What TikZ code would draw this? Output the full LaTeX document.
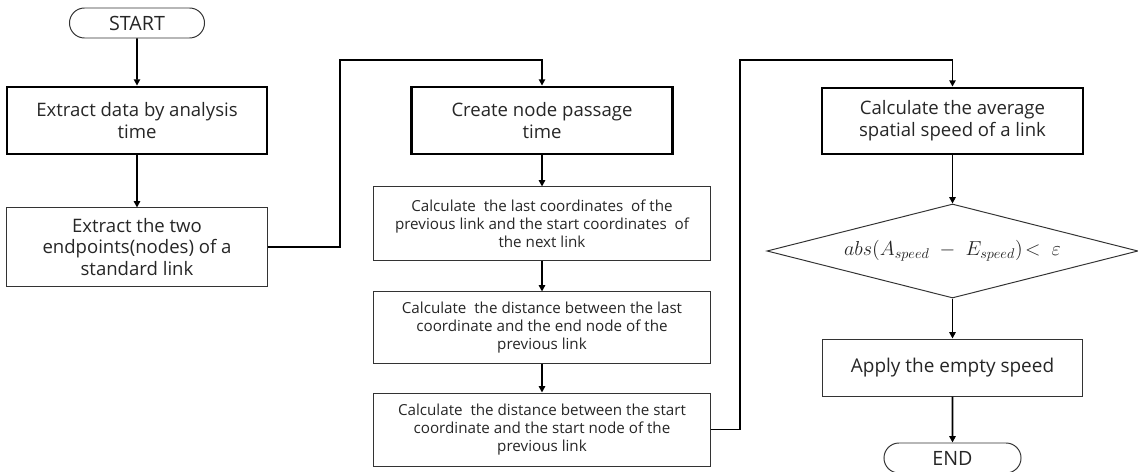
\documentclass[tikz,border=0pt]{standalone}
\usepackage{amsmath,amssymb}
\usepackage{fontspec}
\setmainfont{Open Sans}
\usepackage{tikz}
\usetikzlibrary{positioning,arrows.meta,calc,shapes.geometric,shapes.misc}

\begin{document}
\begin{tikzpicture}[x=0.025cm,y=-0.025cm,
  box/.style={draw=black!80,line width=0.7pt,align=center,inner sep=0pt,text=black!85},
  mainbox/.style={box,draw=black,line width=2pt,minimum width=6.5cm,minimum height=1.675cm,font=\fontsize{13.2}{15.5}\selectfont},
  subbox/.style={box,minimum width=8.4cm,font=\fontsize{10.8}{12.9}\selectfont},
  pill/.style={box,rounded rectangle,minimum height=0.75cm,font=\fontsize{14}{14}\selectfont},
  flow/.style={-{Triangle[length=4.5pt,width=4.5pt]},line width=1.1pt}]
\useasboundingbox (0,0) rectangle (1138,472);
\begin{scope}
% first column
\node[pill,minimum width=3.375cm] (start) at (137,23) {START};
\node[mainbox] (extract) at (137,120.5) {Extract data by analysis\\time};
\node[box,minimum width=6.5cm,minimum height=1.95cm,font=\fontsize{13.2}{15.5}\selectfont] (endpts) at (137,247) {Extract the two\\endpoints(nodes) of a\\standard link};
% second column
\node[mainbox,minimum width=6.525cm] (passage) at (542,120.5) {Create node passage\\time};
\node[subbox,minimum height=1.825cm] (lastco) at (542,223.5) {Calculate \ the last coordinates \ of the\\previous link and the start coordinates \ of\\the next link};
\node[subbox,minimum height=1.775cm] (distend) at (542,327.5) {Calculate \ the distance between the last\\coordinate and the end node of the\\previous link};
\node[subbox,minimum height=1.825cm] (diststart) at (542,429.5) {Calculate \ the distance between the start\\coordinate and the start node of the\\previous link};
% third column
\node[mainbox,minimum width=6.525cm,minimum height=1.65cm] (avgspd) at (952.5,121) {Calculate the average\\spatial speed of a link};
\node[box,diamond,shape aspect=3.95,minimum width=9.275cm,minimum height=2.35cm,font=\fontsize{14}{15}\selectfont] (check) at (952.5,251) {$abs(A_{speed}\;-\;E_{speed})\!<\;\varepsilon$};
\node[box,minimum width=6.5cm,minimum height=1.425cm,font=\fontsize{13.5}{15}\selectfont] (apply) at (952.5,367.5) {Apply the empty speed};
\node[pill,minimum width=3.425cm] (end) at (952.5,458) {END};
% connectors
\draw[flow] (start) -- (extract);
\draw[flow] (extract) -- (endpts);
\draw[flow] (endpts.east) -| (340,60) -| (passage.north);
\draw[flow] (passage) -- (lastco);
\draw[flow] (lastco) -- (distend);
\draw[flow] (distend) -- (diststart);
\draw[flow] (diststart.east) -| (740,60) -| (avgspd.north);
\draw[flow] (avgspd) -- (check);
\draw[flow] (check) -- (apply);
\draw[flow] (apply) -- (end);
\end{scope}
\end{tikzpicture}
\end{document}
